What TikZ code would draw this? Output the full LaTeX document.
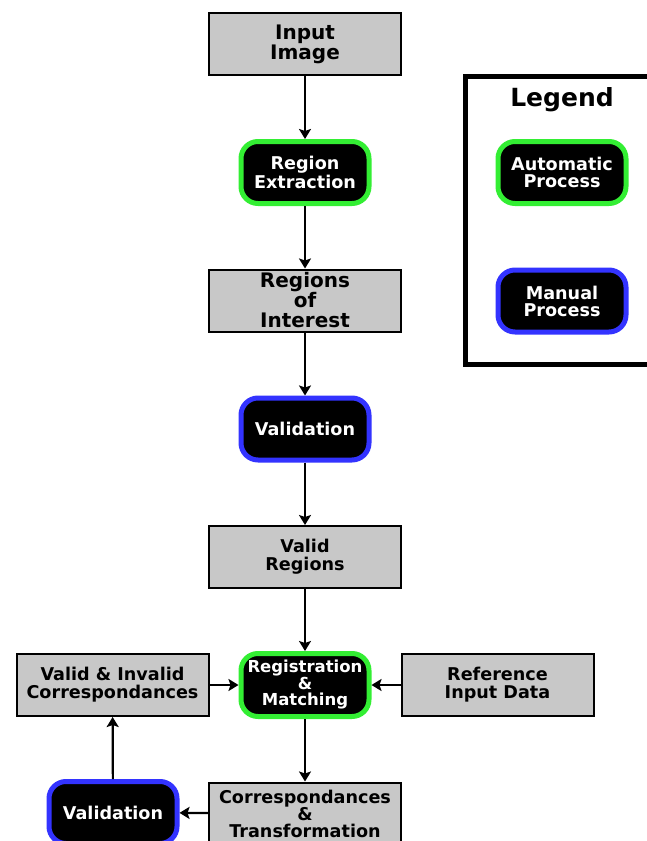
\documentclass[tikz,border=0pt]{standalone}
\usepackage{fontspec}
\setmainfont{DejaVu Sans}
\usetikzlibrary{arrows.meta}
\definecolor{boxgray}{RGB}{200,200,200}
\definecolor{autogreen}{RGB}{51,238,51}
\definecolor{manblue}{RGB}{51,51,255}
\begin{document}
\begin{tikzpicture}[x=1pt,y=-1pt,
  databox/.style={rectangle, draw=black, fill=boxgray, line width=2pt,
    minimum width=192pt, minimum height=62pt, inner sep=0pt, align=center,
    font=\bfseries\fontsize{17.6}{18}\selectfont},
  bigtext/.style={font=\bfseries\fontsize{20}{20}\selectfont},
  procbox/.style={rectangle, rounded corners=17pt, fill=black, text=white,
    line width=5pt, minimum width=128pt, minimum height=62pt, inner sep=0pt,
    align=center, font=\bfseries\fontsize{17.6}{17}\selectfont},
  autoproc/.style={procbox, draw=autogreen},
  manproc/.style={procbox, draw=manblue},
  conn/.style={line width=2.2pt, -{Stealth[length=10pt,width=12pt,inset=2pt]}}
]
\useasboundingbox (0,0) rectangle (647,841);

\node[databox, bigtext] (in) at (305,44) {Input\\Image};
\node[autoproc] (rex) at (305,172.5) {Region\\Extraction};
\node[databox, bigtext] (roi) at (305,300.5) {Regions\\of\\Interest};
\node[manproc] (val1) at (305,429) {Validation};
\node[databox] (vr) at (305,557) {Valid\\Regions};
\node[autoproc, minimum height=63pt, font=\bfseries\fontsize{16.5}{16.5}\selectfont] (reg) at (305,685) {Registration\\\&\\Matching};
\node[databox] (vic) at (112.5,685) {Valid \& Invalid\\Correspondances};
\node[databox] (rid) at (497.5,685) {Reference\\Input Data};
\node[databox, font=\bfseries\fontsize{17.6}{17}\selectfont] (ct) at (305,813.5) {Correspondances\\\&\\Transformation};
\node[manproc] (val2) at (113,812.5) {Validation};

% legend
\draw[line width=5pt] (465.5,76.5) rectangle (665,364.5);
\node[font=\bfseries\fontsize{25}{25}\selectfont] (leg) at (562,100) {Legend};
\node[autoproc] (la) at (562,172.5) {Automatic\\Process};
\node[manproc] (lm) at (562,301) {Manual\\Process};

\draw[conn] (in) -- (rex);
\draw[conn] (rex) -- (roi);
\draw[conn] (roi) -- (val1);
\draw[conn] (val1) -- (vr);
\draw[conn] (vr) -- (reg);
\draw[conn] (vic) -- (reg);
\draw[conn] (rid) -- (reg);
\draw[conn] (reg) -- (ct);
\draw[conn] (ct) -- (val2);
\draw[conn] (val2) -- (vic);
\end{tikzpicture}
\end{document}
